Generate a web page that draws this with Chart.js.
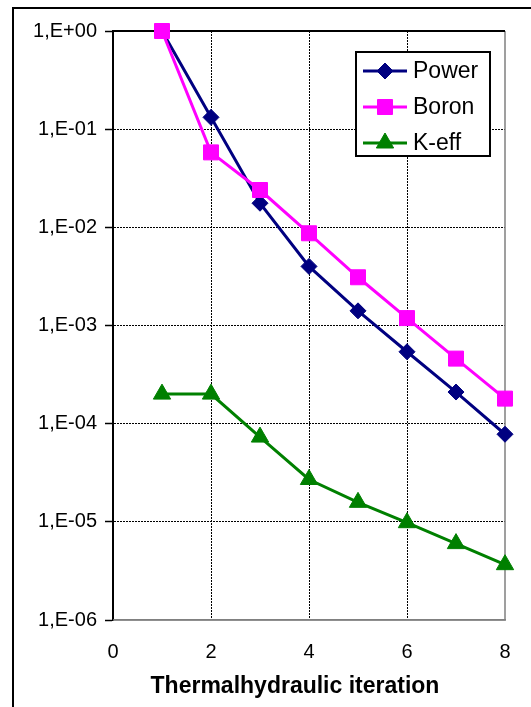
<!DOCTYPE html>
<html>
<head>
<meta charset="utf-8">
<script src="https://cdn.jsdelivr.net/npm/chart.js@4/dist/chart.umd.min.js"></script>
<style>
  html, body { margin: 0; padding: 0; background: #fff; }
  #wrap { position: relative; width: 531px; height: 707px; overflow: hidden; }
  #frame { position: absolute; left: 12px; top: 7px; width: 560px; height: 740px; border: 2px solid #000; box-sizing: border-box; }
  #c { position: absolute; left: 0; top: 0; }
  #xtitle { position: absolute; left: 95px; width: 400px; top: 671px; text-align: center;
            font: bold 23px 'Liberation Sans', Arial, sans-serif; color: #000; line-height: 28px; }
</style>
</head>
<body>
<div id="wrap">
  <div id="frame"></div>
  <canvas id="c" width="531" height="707"></canvas>
  <div id="xtitle"></div>
</div>
<script>
// valeurs
const iterations = [1, 2, 3, 4, 5, 6, 7, 8];
const powerValues = [1.0, 0.132, 0.0176, 0.0040, 0.00141, 0.00054, 0.00021, 0.000078];
const boronValues = [1.0, 0.058, 0.024, 0.0087, 0.0031, 0.00119, 0.00046, 0.00018];
const keffValues = [2.0e-4, 2.0e-4, 7.3e-5, 2.7e-5, 1.58e-5, 9.8e-6, 6.0e-6, 3.66e-6];
const yTicks = [1e0, 1e-1, 1e-2, 1e-3, 1e-4, 1e-5, 1e-6];
const xTitle = 'Thermalhydraulic iteration';

const FONT = "'Liberation Sans', Arial, sans-serif";

document.getElementById('xtitle').textContent = xTitle;

function toPoints(values) {
  return iterations.map((x, i) => ({ x: x, y: values[i] }));
}

// format "1,E-02"
function formatTick(v) {
  const e = Math.round(Math.log10(v));
  const s = String(Math.abs(e)).padStart(2, '0');
  return '1,E' + (e < 0 ? '-' : '+') + s;
}

function drawMarker(ctx, style, x, y, r, color) {
  ctx.save();
  ctx.fillStyle = color;
  ctx.strokeStyle = color;
  ctx.lineWidth = 1;
  ctx.beginPath();
  if (style === 'rectRot') {
    ctx.moveTo(x - r, y); ctx.lineTo(x, y - r); ctx.lineTo(x + r, y); ctx.lineTo(x, y + r);
  } else if (style === 'rect') {
    const h = r * Math.SQRT1_2;
    ctx.rect(x - h, y - h, 2 * h, 2 * h);
  } else {
    ctx.moveTo(x, y - r);
    ctx.lineTo(x + r * Math.sin(2 * Math.PI / 3), y + r / 2);
    ctx.lineTo(x - r * Math.sin(2 * Math.PI / 3), y + r / 2);
  }
  ctx.closePath();
  ctx.fill();
  ctx.stroke();
  ctx.restore();
}

// cadre de la zone de tracé
const framePlugin = {
  id: 'frame',
  beforeDatasetsDraw(chart) {
    const { ctx, chartArea: a } = chart;
    ctx.save();
    ctx.strokeStyle = '#808080';
    ctx.lineWidth = 1.5;
    ctx.beginPath();
    ctx.moveTo(a.right, a.top); ctx.lineTo(a.right, a.bottom); ctx.lineTo(a.left, a.bottom);
    ctx.stroke();
    ctx.strokeStyle = '#000';
    ctx.lineWidth = 2;
    ctx.beginPath();
    ctx.moveTo(a.left, a.top); ctx.lineTo(a.right, a.top);
    ctx.stroke();
    ctx.restore();
  }
};

// légende dans la zone de tracé
const legendPlugin = {
  id: 'insideLegend',
  afterDraw(chart) {
    const { ctx, chartArea: a } = chart;
    const right = a.right - 15, top = a.top + 21;
    const w = 134, h = 104;
    const left = right - w;
    ctx.save();
    ctx.fillStyle = '#fff';
    ctx.fillRect(left, top, w, h);
    ctx.strokeStyle = '#000';
    ctx.lineWidth = 2;
    ctx.strokeRect(left, top, w, h);
    ctx.font = '23px ' + FONT;
    ctx.textBaseline = 'middle';
    ctx.textAlign = 'left';
    chart.data.datasets.forEach((ds, i) => {
      const y = top + 19 + i * 36;
      ctx.strokeStyle = ds.borderColor;
      ctx.lineWidth = 3;
      ctx.beginPath();
      ctx.moveTo(left + 7, y); ctx.lineTo(left + 51, y);
      ctx.stroke();
      drawMarker(ctx, ds.pointStyle, left + 29, y, ds.pointRadius, ds.borderColor);
      ctx.fillStyle = '#000';
      ctx.fillText(ds.label, left + 57, y + 1);
    });
    ctx.restore();
  }
};

Chart.defaults.font.family = FONT;
Chart.defaults.color = '#000';

new Chart(document.getElementById('c'), {
  type: 'line',
  data: {
    datasets: [
      {
        label: 'Power', data: toPoints(powerValues), order: 3, clip: false,
        borderColor: '#000080', backgroundColor: '#000080', borderWidth: 3,
        pointStyle: 'rectRot', pointRadius: 8, pointBorderWidth: 1
      },
      {
        label: 'Boron', data: toPoints(boronValues), order: 2, clip: false,
        borderColor: '#FF00FF', backgroundColor: '#FF00FF', borderWidth: 3,
        pointStyle: 'rect', pointRadius: 10.6, pointBorderWidth: 1
      },
      {
        label: 'K-eff', data: toPoints(keffValues), order: 1, clip: false,
        borderColor: '#008000', backgroundColor: '#008000', borderWidth: 3,
        pointStyle: 'triangle', pointRadius: 10, pointBorderWidth: 1
      }
    ]
  },
  options: {
    responsive: false,
    animation: false,
    layout: { padding: { top: 31, right: 26, bottom: 0, left: 0 } },
    plugins: { legend: { display: false }, tooltip: { enabled: false } },
    elements: { line: { tension: 0 } },
    scales: {
      x: {
        type: 'linear', min: 0, max: 8,
        ticks: { stepSize: 2, padding: 20, font: { size: 20 } },
        grid: {
          drawTicks: false,
          color: ctx => (ctx.tick && (ctx.tick.value === 0 || ctx.tick.value === 8)) ? 'rgba(0,0,0,0)' : '#000',
          lineWidth: 1
        },
        border: { display: true, color: '#808080', width: 1.5, dash: [2, 1] },
        afterFit(scale) { scale.height = 87; }
      },
      y: {
        type: 'logarithmic', min: 1e-6, max: 1,
        afterBuildTicks(scale) { scale.ticks = yTicks.map(v => ({ value: v })); },
        ticks: { callback: v => formatTick(v), padding: 8, font: { size: 20 }, autoSkip: false },
        grid: {
          color: ctx => (ctx.tick && (ctx.tick.value === 1 || ctx.tick.value === 1e-6)) ? 'rgba(0,0,0,0)' : '#000',
          lineWidth: 1,
          tickLength: 8, tickColor: '#000', tickWidth: 1.5, tickBorderDash: []
        },
        border: { display: true, color: '#000', width: 2, dash: [2, 1] },
        afterFit(scale) { scale.width = 113; }
      }
    }
  },
  plugins: [framePlugin, legendPlugin]
});
</script>
</body>
</html>
